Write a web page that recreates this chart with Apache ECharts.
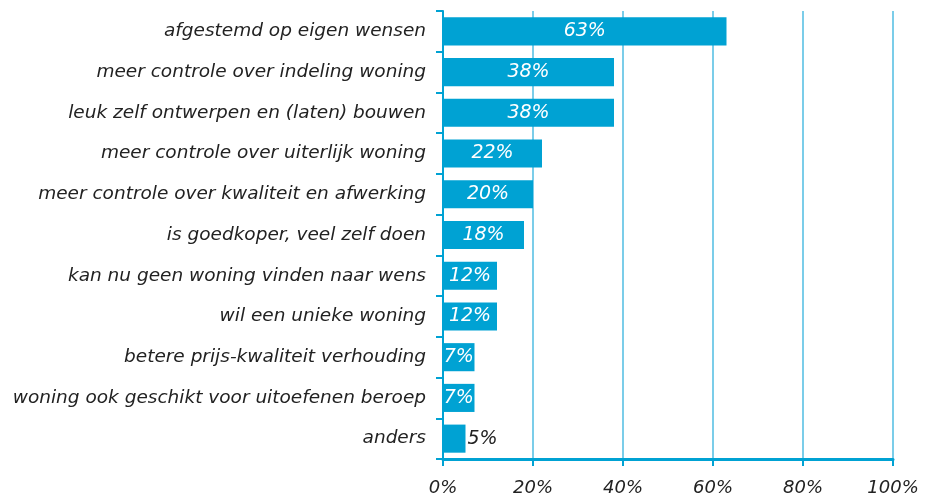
<!DOCTYPE html>
<html>
<head>
<meta charset="utf-8">
<script src="https://cdn.jsdelivr.net/npm/echarts@6/dist/echarts.min.js"></script>
<style>
  html, body { margin: 0; padding: 0; background: #fff; }
  #chart { width: 935px; height: 497px; }
</style>
</head>
<body>
<div id="chart"></div>
<script>
var categories = [
  'afgestemd op eigen wensen',
  'meer controle over indeling woning',
  'leuk zelf ontwerpen en (laten) bouwen',
  'meer controle over uiterlijk woning',
  'meer controle over kwaliteit en afwerking',
  'is goedkoper, veel zelf doen',
  'kan nu geen woning vinden naar wens',
  'wil een unieke woning',
  'betere prijs-kwaliteit verhouding',
  'woning ook geschikt voor uitoefenen beroep',
  'anders'
];
var values = [63, 38, 38, 22, 20, 18, 12, 12, 7, 7, 5];

var font = 'DejaVu Sans';
var blue = '#00a2d3';

// small bars get their label outside
var barData = values.map(function (v) {
  if (v < 6) {
    return { value: v, label: { position: 'right', color: '#222', distance: 2 } };
  }
  return v;
});

var chart = echarts.init(document.getElementById('chart'));
var option = {
  animation: false,
  grid: { left: 443, right: 42, top: 11, bottom: 38 },
  xAxis: {
    type: 'value',
    min: 0,
    max: 100,
    interval: 20,
    axisLine: { show: true, lineStyle: { color: blue, width: 3 } },
    axisTick: { show: true, length: 7, lineStyle: { color: blue, width: 2 } },
    splitLine: { show: true, lineStyle: { color: ['#4fbde2'], width: 1.5 } },
    axisLabel: {
      formatter: '{value}%',
      fontFamily: font,
      fontStyle: 'italic',
      fontSize: 18,
      color: '#222',
      margin: 20
    }
  },
  yAxis: {
    type: 'category',
    data: categories,
    inverse: true,
    axisLine: { show: true, lineStyle: { color: blue, width: 2 } },
    axisTick: { show: true, length: 7, lineStyle: { color: blue, width: 2 } },
    axisLabel: {
      fontFamily: font,
      fontStyle: 'italic',
      fontSize: 18.5,
      color: '#222',
      margin: 17
    }
  },
  series: [{
    type: 'bar',
    data: barData,
    barWidth: '69%',
    itemStyle: { color: blue },
    label: {
      show: true,
      position: 'inside',
      formatter: '{c}%',
      fontFamily: font,
      fontStyle: 'italic',
      fontSize: 19,
      color: '#fff'
    }
  }]
};
chart.setOption(option);
</script>
</body>
</html>
